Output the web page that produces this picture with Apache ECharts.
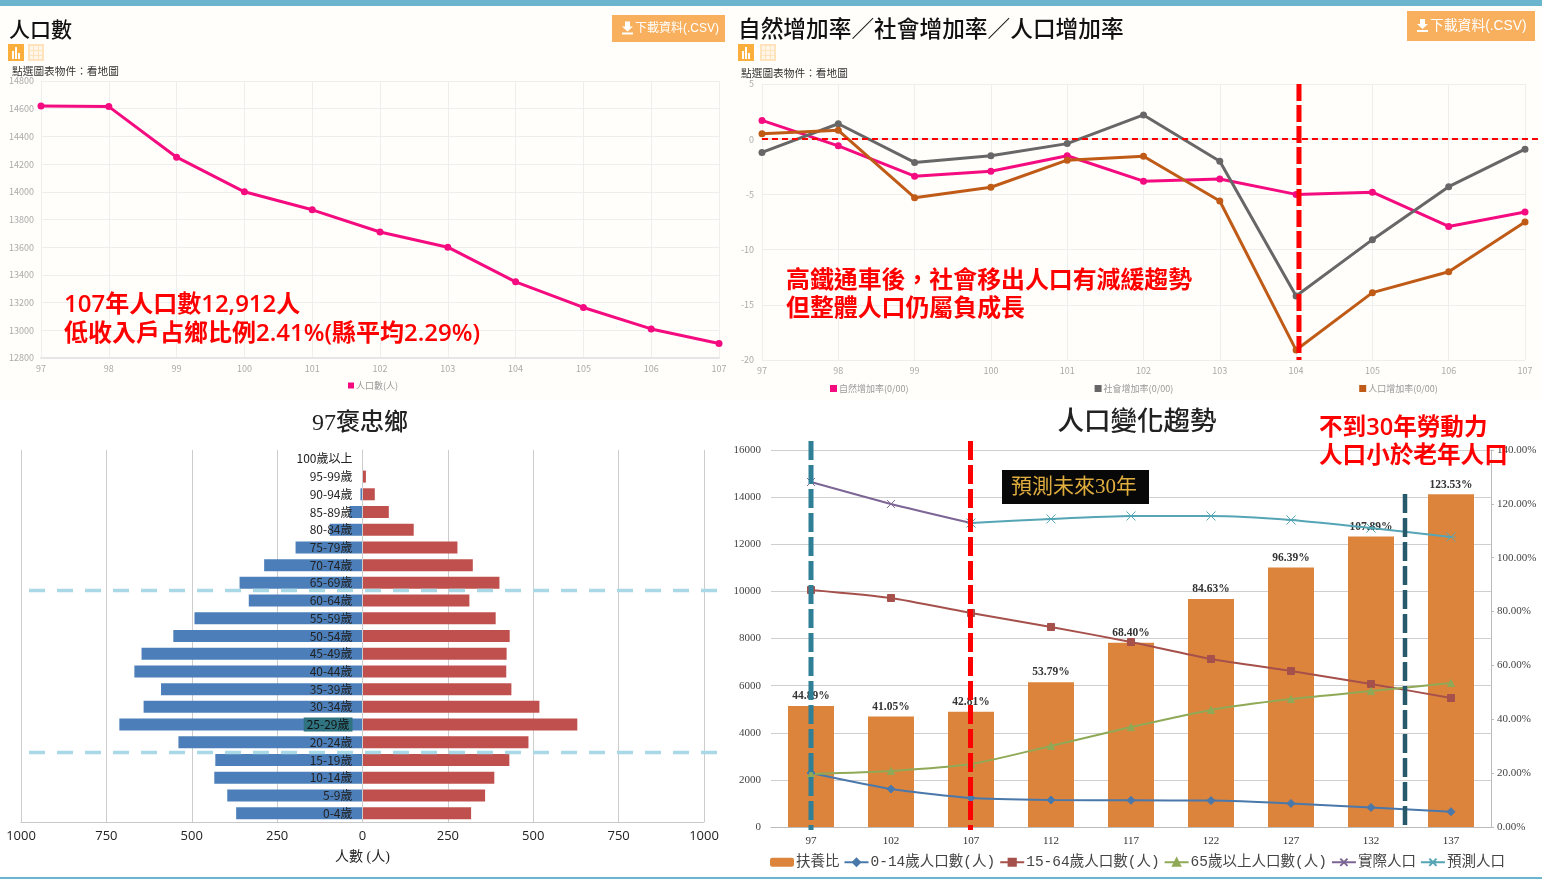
<!DOCTYPE html>
<html>
<head>
<meta charset="utf-8">
<title>褒忠鄉人口</title>
<script src="https://cdn.jsdelivr.net/npm/echarts@6/dist/echarts.min.js"></script>
<style>
  html, body { margin: 0; padding: 0; background: #fff; }
  #chart { width: 1542px; height: 879px; background: linear-gradient(#fffefa 400px, #fff 400px); }
</style>
</head>
<body>
<div id="chart"></div>
<script>
// 人口數
const years = ['97', '98', '99', '100', '101', '102', '103', '104', '105', '106', '107']
const population = [14620, 14615, 14250, 14000, 13870, 13710, 13600, 13350, 13165, 13010, 12905]

// 增加率
const naturalRate = [1.7, -0.6, -3.35, -2.9, -1.5, -3.8, -3.6, -5.0, -4.8, -7.9, -6.6]
const socialRate = [-1.2, 1.4, -2.1, -1.5, -0.4, 2.2, -2.0, -14.2, -9.1, -4.3, -0.9]
const growthRate = [0.5, 0.8, -5.3, -4.35, -1.9, -1.55, -5.6, -19.1, -13.9, -12.0, -7.5]

// 人口金字塔
const ageGroups = ['0-4歲', '5-9歲', '10-14歲', '15-19歲', '20-24歲', '25-29歲', '30-34歲', '35-39歲', '40-44歲', '45-49歲', '50-54歲', '55-59歲', '60-64歲', '65-69歲', '70-74歲', '75-79歲', '80-84歲', '85-89歲', '90-94歲', '95-99歲', '100歲以上']
const male = [370, 396, 434, 431, 539, 712, 641, 590, 668, 647, 554, 492, 333, 360, 288, 196, 96, 38, 6, 0, 0]
const female = [318, 359, 386, 430, 486, 629, 518, 436, 421, 422, 431, 390, 313, 401, 323, 278, 150, 77, 36, 10, 0]

// 人口變化趨勢
const futureYears = ['97', '102', '107', '112', '117', '122', '127', '132', '137']
const dependency = [44.89, 41.05, 42.81, 53.79, 68.40, 84.63, 96.39, 107.89, 123.53]
const age0to14 = [2290, 1610, 1230, 1145, 1130, 1120, 1000, 830, 650]
const age15to64 = [10060, 9720, 9080, 8490, 7850, 7130, 6620, 6070, 5475]
const age65up = [2250, 2380, 2670, 3440, 4240, 4970, 5430, 5770, 6110]
const actualPop = [14640, 13710, 12900, null, null, null, null, null, null]
const forecastPop = [null, null, 12900, 13075, 13200, 13200, 13030, 12690, 12310]

const SANS = '"Noto Sans CJK TC", "Noto Sans", sans-serif'
const LATIN = '"Open Sans", "Noto Sans CJK TC", sans-serif'
const SERIF = '"Liberation Serif", "Noto Sans CJK TC", serif'
const MONO = '"Liberation Mono", "Noto Sans CJK TC", monospace'
const RED = { fontFamily: LATIN, fontWeight: 600 }

const chart = echarts.init(document.getElementById('chart'))

// 文字
const txt = (x, y, text, size, color, extra) => ({
  type: 'text',
  x,
  y,
  z: 50,
  style: Object.assign({ text, fontSize: size, fill: color, fontFamily: SANS, verticalAlign: 'middle', lineHeight: size + 4 }, extra),
})

// 手動標示的虛線
const dashLine = (x1, y1, x2, y2, color, width, dash) => ({
  type: 'line',
  z: 40,
  shape: { x1, y1, x2, y2 },
  style: { stroke: color, lineWidth: width, lineDash: dash },
})

const rect = (x, y, width, height, fill, z) => ({
  type: 'rect',
  z: z || 1,
  shape: { x, y, width, height, r: 0 },
  style: { fill },
})

// 下載按鈕
const button = (x, y, w, h, size) => {
  const ax = x + 10
  const ay = y + h / 2 - 7
  return [
    rect(x, y, w, h, '#f8b05e', 10),
    {
      type: 'polygon',
      z: 11,
      shape: { points: [[ax + 3, ay], [ax + 8, ay], [ax + 8, ay + 5], [ax + 11, ay + 5], [ax + 5.5, ay + 10], [ax, ay + 5], [ax + 3, ay + 5]] },
      style: { fill: '#fff' },
    },
    rect(ax, ay + 11, 11, 2, '#fff', 11),
    txt(x + 23, y + h / 2, '下載資料(.CSV)', size, '#fff', { fontFamily: '"Liberation Sans", "Noto Sans CJK TC", sans-serif' }),
  ]
}

// 圖示
const icons = (x1, x2, y) => [
  rect(x1, y, 16, 17, '#fbae3c', 10),
  rect(x1 + 4, y + 7, 2, 8, '#fff', 11),
  rect(x1 + 7, y + 3, 2, 12, '#fff', 11),
  rect(x1 + 10, y + 9, 2, 6, '#fff', 11),
  rect(x2, y, 16, 17, '#ffe3bd', 10),
  rect(x2 + 2, y + 2, 12, 13, '#fff6e8', 11),
  rect(x2 + 5, y + 2, 1, 13, '#ffe3bd', 12),
  rect(x2 + 10, y + 2, 1, 13, '#ffe3bd', 12),
  rect(x2 + 2, y + 6, 12, 1, '#ffe3bd', 12),
  rect(x2 + 2, y + 11, 12, 1, '#ffe3bd', 12),
]

const lineAxisLabel = { color: '#aaa', fontSize: 9, fontFamily: SANS }
const lightLine = { lineStyle: { color: '#eeeeee', width: 1 } }

const topX = (gridIndex) => ({
  type: 'category',
  gridIndex,
  data: years,
  boundaryGap: false,
  axisLine: { lineStyle: { color: '#e6e6e6', width: 2 } },
  axisTick: { show: false },
  axisLabel: { ...lineAxisLabel, margin: 6 },
  splitLine: { show: true, ...lightLine },
})

const dotLine = (name, data, color, xAxisIndex, yAxisIndex) => ({
  name,
  type: 'line',
  data,
  xAxisIndex,
  yAxisIndex,
  symbol: 'circle',
  symbolSize: 7,
  itemStyle: { color },
  lineStyle: { color, width: 3 },
})

const trendLine = (name, data, color, symbol, size) => ({
  name,
  type: 'line',
  data,
  xAxisIndex: 3,
  yAxisIndex: 3,
  smooth: 0.2,
  symbol,
  symbolSize: size,
  itemStyle: { color, borderColor: color, borderWidth: 1 },
  lineStyle: { color, width: 2 },
})

const option = {
  animation: false,
  backgroundColor: 'transparent',
  textStyle: { fontFamily: SANS },
  grid: [
    { left: 41, top: 81, width: 678, height: 277, outerBoundsMode: 'none' },
    { left: 762, top: 84, width: 763, height: 276, outerBoundsMode: 'none' },
    { left: 21, top: 450, width: 683, height: 372, outerBoundsMode: 'none' },
    { left: 771, top: 450, width: 720, height: 377, outerBoundsMode: 'none' },
  ],
  xAxis: [
    topX(0),
    topX(1),
    {
      type: 'value',
      gridIndex: 2,
      min: -1000,
      max: 1000,
      interval: 250,
      name: '人數 (人)',
      nameLocation: 'middle',
      nameGap: 28,
      nameTextStyle: { color: '#222', fontSize: 14, fontFamily: SERIF },
      axisLine: { show: true, onZero: false, lineStyle: { color: '#c8c8c8' } },
      axisTick: { show: false },
      axisLabel: { color: '#222', fontSize: 13, fontFamily: '"Open Sans", sans-serif', margin: 8, formatter: (v) => String(Math.abs(v)) },
      splitLine: { show: true, lineStyle: { color: '#cccccc' } },
    },
    {
      type: 'category',
      gridIndex: 3,
      data: futureYears,
      axisLine: { lineStyle: { color: '#bbb' } },
      axisTick: { show: false },
      axisLabel: { color: '#333', fontSize: 11, fontFamily: SERIF, margin: 9 },
    },
  ],
  yAxis: [
    {
      type: 'value',
      gridIndex: 0,
      min: 12800,
      max: 14800,
      interval: 200,
      axisLine: { show: false },
      axisTick: { show: false },
      axisLabel: { ...lineAxisLabel, margin: 7, formatter: (v) => String(v) },
      splitLine: lightLine,
    },
    {
      type: 'value',
      gridIndex: 1,
      min: -20,
      max: 5,
      interval: 5,
      axisLine: { show: false },
      axisTick: { show: false },
      axisLabel: { ...lineAxisLabel, margin: 8 },
      splitLine: lightLine,
    },
    {
      type: 'category',
      gridIndex: 2,
      data: ageGroups,
      z: 5,
      position: 'left',
      // 標籤放在中線左側
      offset: -341.5,
      axisLine: { onZero: false, lineStyle: { color: '#cccccc' } },
      axisTick: { show: false },
      axisLabel: {
        color: '#222',
        fontSize: 12,
        margin: 10,
        interval: 0,
        formatter: (v) => (v === '25-29歲' ? '{hi|' + v + '}' : v),
        rich: { hi: { backgroundColor: '#2f7480', color: '#111', fontSize: 12, padding: [1, 3] } },
      },
    },
    {
      type: 'value',
      gridIndex: 3,
      min: 0,
      max: 16000,
      interval: 2000,
      axisLine: { show: false },
      axisTick: { show: false },
      axisLabel: { color: '#444', fontSize: 11, fontFamily: SERIF, margin: 10, formatter: (v) => String(v) },
      splitLine: { lineStyle: { color: '#cfcfcf' } },
    },
    {
      type: 'value',
      gridIndex: 3,
      position: 'right',
      min: 0,
      max: 140,
      interval: 20,
      axisLine: { show: true, lineStyle: { color: '#bbb' } },
      axisTick: { show: true, length: 3, lineStyle: { color: '#bbb' } },
      axisLabel: { color: '#444', fontSize: 11, fontFamily: SERIF, margin: 6, formatter: (v) => v.toFixed(2) + '%' },
      splitLine: { show: false },
    },
  ],
  legend: [
    {
      data: ['人口數(人)'],
      left: 343,
      top: 376,
      itemWidth: 6,
      itemHeight: 6,
      itemGap: 0,
      icon: 'rect',
      textStyle: { color: '#999', fontSize: 9, padding: [0, 0, 0, -3] },
    },
    {
      data: ['自然增加率(0/00)', '社會增加率(0/00)', '人口增加率(0/00)'],
      left: 825,
      top: 379,
      itemWidth: 7,
      itemHeight: 7,
      itemGap: 186,
      icon: 'rect',
      textStyle: { color: '#999', fontSize: 9, padding: [0, 0, 0, -3] },
    },
    {
      data: ['扶養比', '0-14歲人口數(人)', '15-64歲人口數(人)', '65歲以上人口數(人)', '實際人口', '預測人口'],
      left: 765,
      top: 850,
      itemWidth: 24,
      itemHeight: 9,
      itemGap: 4,
      textStyle: { color: '#444', fontSize: 14.5, fontFamily: MONO, padding: [0, 0, 0, -3] },
    },
  ],
  series: [
    dotLine('人口數(人)', population, '#f50b80', 0, 0),

    dotLine('自然增加率(0/00)', naturalRate, '#f50b80', 1, 1),
    dotLine('社會增加率(0/00)', socialRate, '#676767', 1, 1),
    dotLine('人口增加率(0/00)', growthRate, '#bf5b17', 1, 1),

    {
      name: '男',
      type: 'bar',
      stack: 'pyramid',
      xAxisIndex: 2,
      yAxisIndex: 2,
      barWidth: 12,
      data: male.map((v) => -v),
      itemStyle: { color: '#4c7fba' },
    },
    {
      name: '女',
      type: 'bar',
      stack: 'pyramid',
      xAxisIndex: 2,
      yAxisIndex: 2,
      barWidth: 12,
      data: female,
      itemStyle: { color: '#c0504d' },
    },

    {
      name: '扶養比',
      type: 'bar',
      xAxisIndex: 3,
      yAxisIndex: 4,
      barWidth: 46,
      data: dependency,
      itemStyle: { color: '#dd843c' },
      label: {
        show: true,
        position: 'top',
        distance: 4,
        color: '#333',
        fontSize: 11.5,
        fontWeight: 'bold',
        fontFamily: SERIF,
        formatter: (p) => p.value.toFixed(2) + '%',
      },
    },
    trendLine('0-14歲人口數(人)', age0to14, '#4a78ab', 'diamond', 8),
    trendLine('15-64歲人口數(人)', age15to64, '#a5504b', 'rect', 7),
    trendLine('65歲以上人口數(人)', age65up, '#8fa957', 'triangle', 7),
    trendLine('實際人口', actualPop, '#7c6595', 'path://M0 0L10 10M10 0L0 10', 8),
    trendLine('預測人口', forecastPop, '#55a5b5', 'path://M0 0L10 10M10 0L0 10M0 5H10', 9),
  ],
  graphic: [
    rect(0, 0, 1542, 6, '#6bb5cf', 2),
    rect(0, 877, 1542, 2, '#6bb5cf', 2),

    txt(9, 29, '人口數', 21, '#111', { fontWeight: 500 }),
    txt(738, 28, '自然增加率／社會增加率／人口增加率', 22.7, '#111', { fontWeight: 500 }),
    ...button(612, 15, 113, 27, 12),
    ...button(1407, 11, 128, 30, 13.8),
    ...icons(8, 28, 44),
    ...icons(738, 760, 44),
    txt(12, 71, '點選圖表物件：看地圖', 10.7, '#333'),
    txt(741, 73, '點選圖表物件：看地圖', 10.7, '#333'),

    txt(64, 305, '107年人口數12,912人', 24, '#ff0000', RED),
    txt(64, 334, '低收入戶占鄉比例2.41%(縣平均2.29%)', 24, '#ff0000', RED),
    txt(786, 281, '高鐵通車後，社會移出人口有減緩趨勢', 23.9, '#ff0000', RED),
    txt(786, 309, '但整體人口仍屬負成長', 23.9, '#ff0000', RED),
    dashLine(762, 139, 1538, 139, '#ff0000', 2, [6, 4]),
    dashLine(1299, 84, 1299, 360, '#ff0000', 5, [17, 4]),

    txt(360, 424, '97褒忠鄉', 24, '#222', { textAlign: 'center', fontFamily: SERIF, fontWeight: 500 }),
    dashLine(29, 590.5, 718, 590.5, '#a9d8e6', 3.5, [16, 12]),
    dashLine(29, 752.5, 718, 752.5, '#a9d8e6', 3.5, [16, 12]),

    txt(1137, 423, '人口變化趨勢', 26.5, '#222', { textAlign: 'center', fontFamily: SERIF, fontWeight: 500 }),
    txt(1319, 428, '不到30年勞動力', 23.6, '#ff0000', RED),
    txt(1319, 456, '人口小於老年人口', 23.6, '#ff0000', RED),
    rect(1002, 470, 147, 34, '#080808', 30),
    txt(1011, 487, '預測未來30年', 21, '#e0ae3e', { fontFamily: SERIF }),
    dashLine(811, 441, 811, 830, '#2f7f96', 5, [19, 5]),
    dashLine(970.5, 441, 970.5, 830, '#ff0000', 5, [19, 5]),
    dashLine(1405, 494, 1405, 830, '#265a6b', 4.5, [19, 5]),
  ],
}

chart.setOption(option)

window.addEventListener('resize', () => chart.resize())
</script>
</body>
</html>
